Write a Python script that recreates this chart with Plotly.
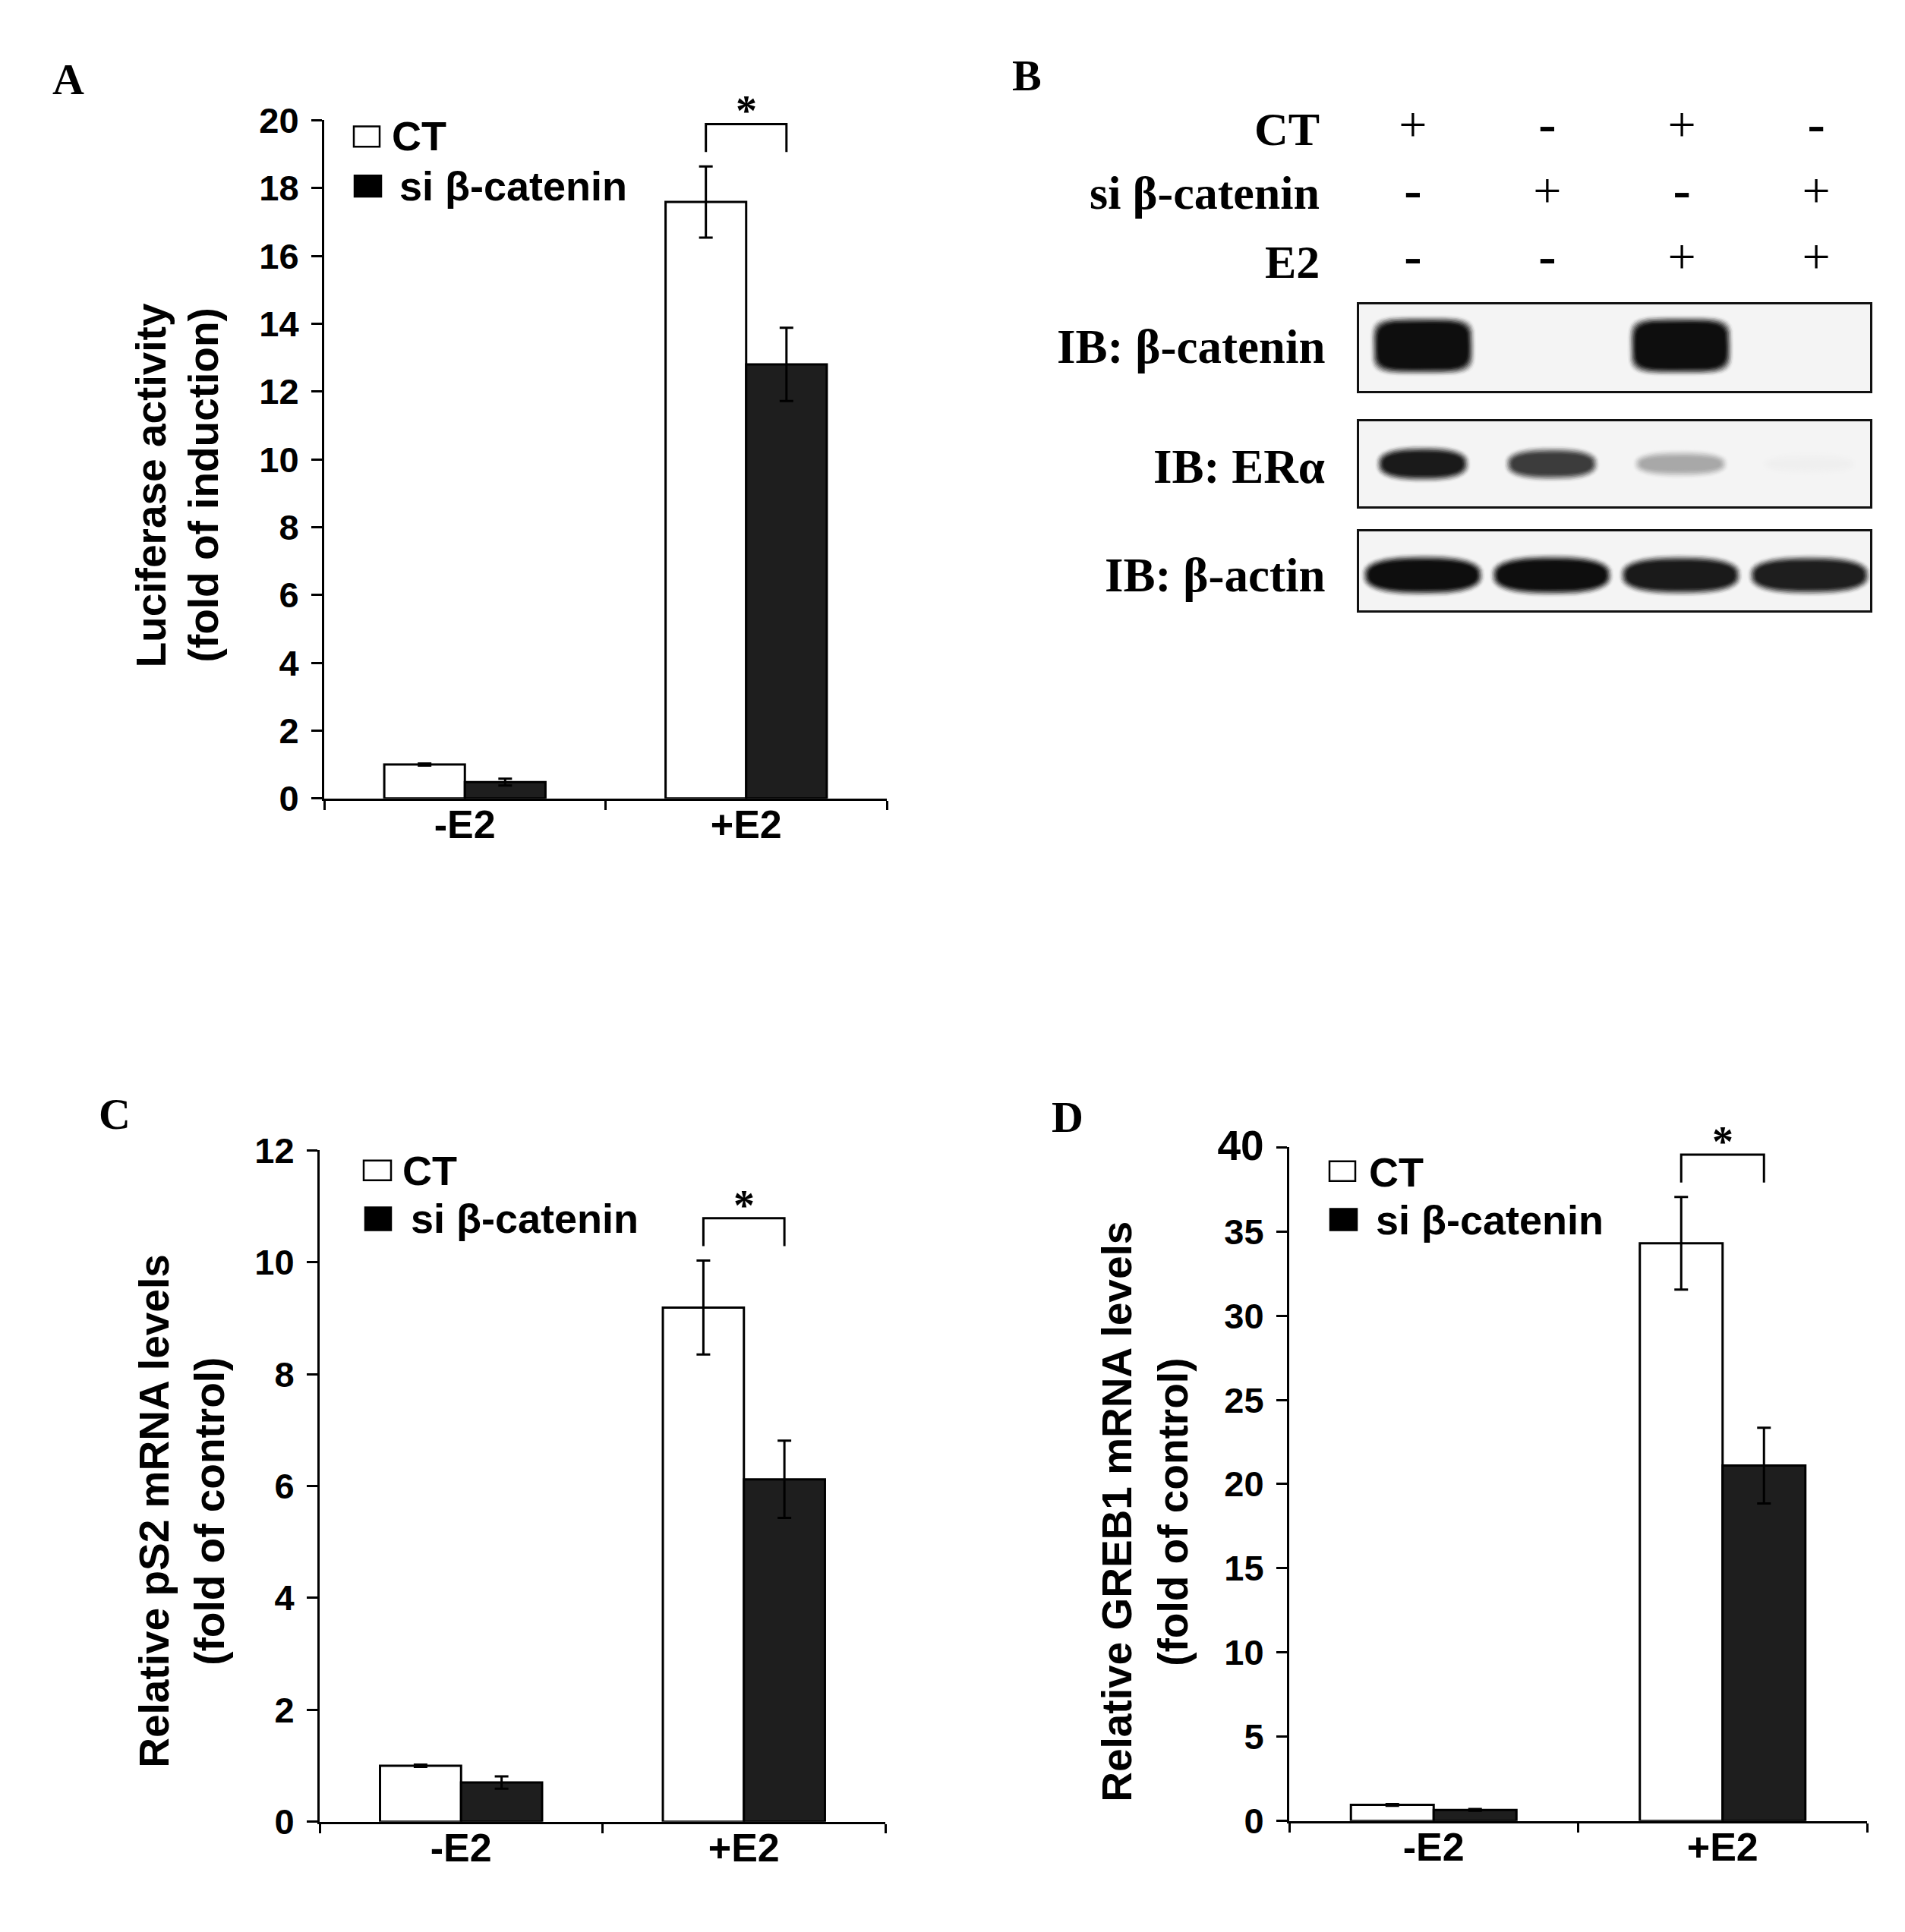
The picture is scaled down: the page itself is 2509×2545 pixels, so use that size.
import numpy as np
import plotly.graph_objects as go

W, H = 2509, 2545
SANS = "Liberation Sans, Arial, sans-serif"
SERIF = "Liberation Serif, Times New Roman, serif"

# ---------------- data ----------------
categories = ["-E2", "+E2"]
series_names = ["CT", "si β-catenin"]

# Panel A: luciferase activity (fold of induction)
a_ct = [1.00, 17.59]
a_ct_err = [0.03, 1.05]
a_si = [0.48, 12.80]
a_si_err = [0.10, 1.08]
a_ticks = [0, 2, 4, 6, 8, 10, 12, 14, 16, 18, 20]

# Panel C: relative pS2 mRNA levels
c_ct = [1.00, 9.19]
c_ct_err = [0.02, 0.84]
c_si = [0.70, 6.12]
c_si_err = [0.11, 0.69]
c_ticks = [0, 2, 4, 6, 8, 10, 12]

# Panel D: relative GREB1 mRNA levels
d_ct = [0.95, 34.3]
d_ct_err = [0.05, 2.75]
d_si = [0.65, 21.1]
d_si_err = [0.05, 2.25]
d_ticks = [0, 5, 10, 15, 20, 25, 30, 35, 40]

# Panel B: western blot
lanes = [1, 2, 3, 4]
treatment_rows = ["CT", "si β-catenin", "E2"]
ct_signs = ["+", "-", "+", "-"]
si_signs = ["-", "+", "-", "+"]
e2_signs = ["-", "-", "+", "+"]
blot_labels = ["IB: β-catenin", "IB: ERα", "IB: β-actin"]
band_beta_catenin = [1.0, 0.0, 1.0, 0.0]
band_er_alpha = [0.95, 0.80, 0.33, 0.02]
band_beta_actin = [1.0, 1.0, 0.95, 0.93]

# ---------------- helpers ----------------
# the photographed page is slightly compressed vertically; compensate so that
# reference pixel rows land where they should
Y_OFF, Y_SC = 24.0, 0.9805


def pxx(x):
    return x / W


def pxy(y):
    return 1 - ((y - Y_OFF) / Y_SC) / H


fig = go.Figure()
layout = dict(width=W, height=H, margin=dict(l=0, r=0, t=0, b=0), autosize=False,
              paper_bgcolor="white", plot_bgcolor="white",
              barmode="group", bargap=0.427, bargroupgap=0,
              showlegend=False)
shapes = []
annotations = []


def bar_panel(idx, ct, ct_err, si, si_err, ticks, x0, x1, ytop, ybot, ymax,
              titles, title_xs, title_yc, leg, letter, letter_xy, big_top=False):
    xa = "x" if idx == 1 else f"x{idx}"
    ya = "y" if idx == 1 else f"y{idx}"
    xkey = "xaxis" if idx == 1 else f"xaxis{idx}"
    ykey = "yaxis" if idx == 1 else f"yaxis{idx}"
    err_style = dict(type="data", thickness=3, width=9, color="black")
    fig.add_trace(go.Bar(x=categories, y=ct, name=series_names[0],
                         error_y=dict(array=ct_err, **err_style),
                         marker=dict(color="white", line=dict(color="black", width=3)),
                         xaxis=xa, yaxis=ya, hoverinfo="skip"))
    fig.add_trace(go.Bar(x=categories, y=si, name=series_names[1],
                         error_y=dict(array=si_err, **err_style),
                         marker=dict(color="#1e1e1e", line=dict(color="black", width=3)),
                         xaxis=xa, yaxis=ya, hoverinfo="skip"))
    ticktext = [str(v) for v in ticks]
    if big_top:
        ticktext[-1] = f"<span style='font-size:55px'>{ticks[-1]}</span>"
    layout[xkey] = dict(domain=[pxx(x0), pxx(x1)], anchor=ya, type="category",
                        range=[-0.5, 1.5], showline=True, linewidth=3, linecolor="black",
                        ticks="outside", tickson="boundaries", ticklen=12, tickwidth=3,
                        tickcolor="black", showgrid=False, zeroline=False,
                        ticklabelstandoff=-13,
                        tickfont=dict(family=SANS, size=52, color="black", weight="bold"))
    layout[ykey] = dict(domain=[pxy(ybot), pxy(ytop)], anchor=xa, range=[0, ymax],
                        tickmode="array", tickvals=ticks, ticktext=ticktext,
                        showline=True, linewidth=3, linecolor="black",
                        ticks="outside", ticklen=14, tickwidth=3, tickcolor="black",
                        showgrid=False, zeroline=False, ticklabelstandoff=7,
                        tickfont=dict(family=SANS, size=47, color="black", weight="bold"))
    # significance bracket between the +E2 bars
    scale = ymax / (ybot - ytop)
    top_err = max(ct[1] + ct_err[1], si[1] + si_err[1])
    yb = top_err + 19 * scale
    yt = yb + 37 * scale
    off = (1 - layout["bargap"]) / 4
    xl, xr = 1 - off, 1 + off
    shapes.append(dict(type="path", xref=xa, yref=ya,
                       path=f"M {xl},{yb} L {xl},{yt} L {xr},{yt} L {xr},{yb}",
                       line=dict(color="black", width=3)))
    annotations.append(dict(x=1, y=yt, xref=xa, yref=ya, text="*", showarrow=False,
                            xanchor="center", yanchor="middle", yshift=17,
                            font=dict(family=SERIF, size=56, color="black", weight="bold")))
    # y titles
    for t, tx in zip(titles, title_xs):
        annotations.append(dict(x=pxx(tx), y=pxy(title_yc), xref="paper", yref="paper",
                                text=t, textangle=-90, showarrow=False,
                                xanchor="center", yanchor="middle",
                                font=dict(family=SANS, size=55, color="black", weight="bold")))
    # legend
    (r1, r2) = leg
    for (rx0, ry0, rx1, ry1, fill, tx, ty), name in zip([r1, r2], series_names):
        shapes.append(dict(type="rect", xref="paper", yref="paper",
                           x0=pxx(rx0), x1=pxx(rx1), y0=pxy(ry1), y1=pxy(ry0),
                           fillcolor=fill, line=dict(color="black", width=2.5)))
        annotations.append(dict(x=pxx(tx), y=pxy(ty), xref="paper", yref="paper",
                                text=name, showarrow=False, xanchor="left", yanchor="middle",
                                font=dict(family=SANS, size=54, color="black", weight="bold")))
    annotations.append(dict(x=pxx(letter_xy[0]), y=pxy(letter_xy[1]), xref="paper", yref="paper",
                            text=letter, showarrow=False, xanchor="center", yanchor="middle",
                            font=dict(family=SERIF, size=58, color="black", weight="bold")))


bar_panel(1, a_ct, a_ct_err, a_si, a_si_err, a_ticks, 427, 1168, 149, 1046, 20,
          ["Luciferase activity", "(fold of induction)"], [199, 268], 632,
          [(466, 157, 500, 184, "white", 514, 170), (467, 222, 502, 250, "black", 524, 236)],
          "A", (90, 95))
bar_panel(2, c_ct, c_ct_err, c_si, c_si_err, c_ticks, 421, 1166, 1511.5, 2399.5, 12,
          ["Relative pS2 mRNA levels", "(fold of control)"], [203, 276], 1989,
          [(479, 1525, 515, 1551, "white", 528, 1538), (481, 1587, 515, 1617, "black", 539, 1602)],
          "C", (151, 1463))
bar_panel(3, d_ct, d_ct_err, d_si, d_si_err, d_ticks, 1698, 2459, 1507.5, 2398.5, 40,
          ["Relative GREB1 mRNA levels", "(fold of control)"], [1471, 1545], 1990,
          [(1751, 1526, 1785, 1552, "white", 1801, 1540), (1752, 1589, 1787, 1617, "black", 1810, 1604)],
          "D", (1406, 1467), big_top=True)

# ---------------- panel B ----------------
BX0, BX1 = 1790, 2463
table_range = [0.6, 4.4]
blot_range = [0.505, 4.47]
lane_px = (BX1 - BX0) / (blot_range[1] - blot_range[0])

# treatment table
layout["xaxis4"] = dict(domain=[pxx(BX0), pxx(BX1)], range=table_range, anchor="y4", visible=False)
layout["yaxis4"] = dict(domain=[pxy(378), pxy(116)], range=[2.5, -0.5], anchor="x4", visible=False)
for r, signs in enumerate([ct_signs, si_signs, e2_signs]):
    is_minus = [s == "-" for s in signs]
    fig.add_trace(go.Scatter(x=lanes, y=[r] * len(lanes), text=signs, mode="text",
                             textposition="middle center",
                             textfont=dict(family=SERIF, color="black",
                                           size=[70 if m else 66 for m in is_minus],
                                           weight=["bold" if m else "normal" for m in is_minus]),
                             xaxis="x4", yaxis="y4", hoverinfo="skip"))
row_y = [161, 245, 336]
for name, ry in zip(treatment_rows, row_y):
    annotations.append(dict(x=pxx(1740), y=pxy(ry), xref="paper", yref="paper", text=name,
                            showarrow=False, xanchor="right", yanchor="middle",
                            font=dict(family=SERIF, size=62, color="black", weight="bold")))

blot_geo = [(393, 507), (547, 660), (693, 797)]
blot_data = [band_beta_catenin, band_er_alpha, band_beta_actin]
label_y = [449, 607, 751]
band_style = [dict(hw=0.34, hh=0.50, dy=0.05, n=4.5),
              dict(hw=0.30, hh=0.25, dy=0.0, n=2.6),
              dict(hw=0.41, hh=0.33, dy=-0.11, n=2.6)]
BG = 244
BLUR_PX = 14
NL = 9
t = np.linspace(0, 2 * np.pi, 160)
for k, ((gy0, gy1), vals, st, lab, ly) in enumerate(zip(blot_geo, blot_data, band_style,
                                                         blot_labels, label_y)):
    xi, yi = 5 + k, 5 + k
    xa, ya = f"x{xi}", f"y{yi}"
    ypx = (gy1 - gy0) / 2.0
    layout[f"xaxis{xi}"] = dict(domain=[pxx(BX0), pxx(BX1)], range=blot_range, anchor=ya,
                                showline=True, mirror=True, linewidth=3, linecolor="#111111",
                                showticklabels=False, ticks="", showgrid=False, zeroline=False)
    layout[f"yaxis{yi}"] = dict(domain=[pxy(gy1), pxy(gy0)], range=[-1, 1], anchor=xa,
                                showline=True, mirror=True, linewidth=3, linecolor="#111111",
                                showticklabels=False, ticks="", showgrid=False, zeroline=False)
    shapes.append(dict(type="rect", xref=f"{xa} domain", yref=f"{ya} domain",
                       x0=0, x1=1, y0=0, y1=1, fillcolor=f"rgb({BG},{BG},{BG})",
                       line=dict(width=0), layer="below"))
    for lane, inten in zip(lanes, vals):
        if inten <= 0.01:
            continue
        hh_scale = 0.3 + 0.7 * inten
        for i in range(NL):
            f = (i + 1) / NL           # 1/NL (outer) ... 1 (core)
            grow = (1 - f) * BLUR_PX
            a = st["hw"] + grow / lane_px
            b = st["hh"] * hh_scale + grow / ypx
            e = 2.0 / st["n"]
            xs = lane + a * np.sign(np.cos(t)) * np.abs(np.cos(t)) ** e
            ys = st["dy"] + b * np.sign(np.sin(t)) * np.abs(np.sin(t)) ** e
            w = f * f * (3 - 2 * f)
            g = int(round(BG - w * inten * (BG - 14)))
            fig.add_trace(go.Scatter(x=xs, y=ys, mode="lines", fill="toself",
                                     line=dict(width=0), fillcolor=f"rgb({g},{g},{g})",
                                     xaxis=xa, yaxis=ya, hoverinfo="skip"))
    annotations.append(dict(x=pxx(1747), y=pxy(ly), xref="paper", yref="paper",
                            text=lab, showarrow=False, xanchor="right", yanchor="middle",
                            font=dict(family=SERIF, size=63, color="black", weight="bold")))

annotations.append(dict(x=pxx(1352), y=pxy(90), xref="paper", yref="paper", text="B",
                        showarrow=False, xanchor="center", yanchor="middle",
                        font=dict(family=SERIF, size=58, color="black", weight="bold")))

layout["shapes"] = shapes
layout["annotations"] = annotations
fig.update_layout(**layout)
fig.write_html("out.html", config={"displayModeBar": False},
               post_script="document.body.style.margin='0';document.body.style.padding='0';"
                           "document.documentElement.style.overflow='hidden';")
